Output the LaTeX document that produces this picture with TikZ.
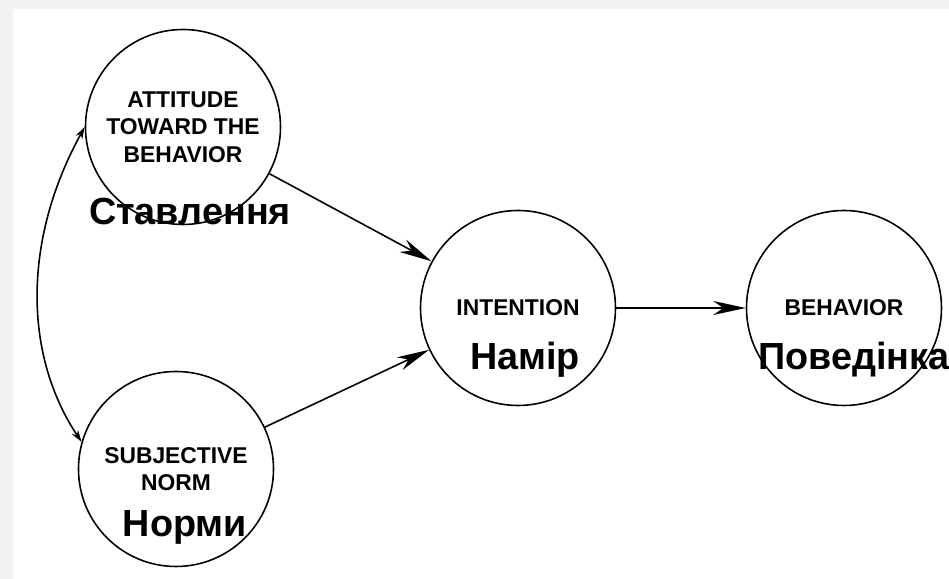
\documentclass[tikz,border=0pt]{standalone}
\usepackage{fontspec}
\setmainfont{Liberation Sans}
\usetikzlibrary{arrows.meta}
\definecolor{bggray}{HTML}{F1F3F1}
\begin{document}
\begin{tikzpicture}[line width=0.9pt,
    main/.style = {draw, circle, minimum size=3.9cm, align=center, inner sep=0pt,
                   font=\fontsize{13}{15.6}\selectfont\bfseries},
    ukr/.style = {font=\fontsize{21.5}{24}\selectfont\bfseries, inner sep=0pt},
    big/.style = {-{Stealth[length=6.5mm, width=2.8mm, inset=2mm]}},
    small/.style = {{Stealth[length=2.4mm, width=1.5mm]}-{Stealth[length=2.4mm, width=1.5mm]}}]
    \useasboundingbox (0,0) rectangle (18.98,11.58);
    \fill[bggray] (0,0) rectangle (18.98,11.58);
    \fill[white] (0.26,0) rectangle (18.98,11.40);

    % nodi del modello
    \node[main] (1) at (3.66,9.04) {ATTITUDE\\TOWARD THE\\BEHAVIOR};
    \node[main] (2) at (3.52,2.20) {SUBJECTIVE\\NORM};
    \node[main] (3) at (10.36,5.42) {INTENTION};
    \node[main] (4) at (16.88,5.42) {BEHAVIOR};

    \node[ukr] (u1) at (3.80,7.34) {Ставлення};
    \node[ukr] (u2) at (3.70,1.04) {Норми};
    \node[ukr] (u3) at (10.50,4.38) {Намір};
    \node[ukr] (u4) at (17.08,4.38) {Поведінка};

    \draw[big] (1) to (3);
    \draw[big] (2) to (3);
    \draw[big] (3) to (4);

    \draw[small] (1.180) .. controls (0.46,6.8) and (0.46,4.5) .. (2.164);

\end{tikzpicture}
\end{document}
